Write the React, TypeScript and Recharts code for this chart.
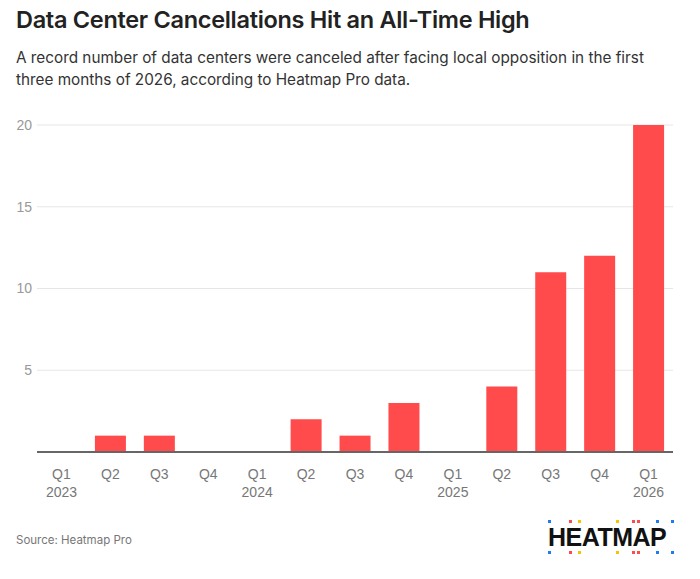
import React from "react";
import { BarChart, Bar, XAxis, YAxis, CartesianGrid } from "recharts";

const quarters = ["Q1", "Q2", "Q3", "Q4", "Q1", "Q2", "Q3", "Q4", "Q1", "Q2", "Q3", "Q4", "Q1"];
const years = ["2023", "", "", "", "2024", "", "", "", "2025", "", "", "", "2026"];
const cancellations = [0, 1, 1, 0, 0, 2, 1, 3, 0, 4, 11, 12, 20];
const yTicks = [0, 5, 10, 15, 20];

const data = quarters.map((q, i) => ({
  key: `${q}-${i}`,
  quarter: q,
  year: years[i],
  value: cancellations[i],
}));

const RED = "#FF4B4B";
const TICK_FONT = "'Liberation Sans', Arial, Helvetica, sans-serif";
const BRAND_FONT = "Inter, 'Noto Sans', sans-serif";

// two-line quarter / year labels under the baseline
const QuarterTick = (props: any) => {
  const { x, y, payload } = props;
  const row = data[payload.index] ?? data.find((d) => d.key === payload.value);
  return (
    <g transform={`translate(${x},${y})`}>
      <text textAnchor="middle" fill="#777" fontSize={14} fontFamily={TICK_FONT} dy={19}>
        {row?.quarter}
      </text>
      {row?.year ? (
        <text textAnchor="middle" fill="#777" fontSize={14} fontFamily={TICK_FONT} dy={37}>
          {row.year}
        </text>
      ) : null}
    </g>
  );
};

const ValueTick = (props: any) => {
  const { x, y, payload } = props;
  if (payload.value === 0) return null;
  return (
    <text
      x={x}
      y={y}
      dy="0.355em"
      textAnchor="end"
      fill="#999"
      fontSize={14}
      fontFamily={TICK_FONT}
    >
      {payload.value}
    </text>
  );
};

// decorative dots around the wordmark: [x, colour]
const logoDots: Array<[number, string]> = [
  [0, "#1E7BF2"],
  [21, "#FF4B4B"],
  [30, "#F2C500"],
  [68, "#F2C500"],
  [84, "#FF4B4B"],
  [89, "#FF4B4B"],
  [108, "#1E7BF2"],
  [123, "#1E7BF2"],
];

function Logo() {
  return (
    <div style={{ position: "absolute", left: 548, top: 519, width: 128, height: 38 }}>
      <svg width={128} height={38} style={{ position: "absolute", left: 0, top: 0 }}>
        {logoDots.map(([dx, c], i) => (
          <g key={i}>
            <rect x={dx} y={1} width={3} height={3} fill={c} />
            <rect x={dx} y={32} width={3} height={3} fill={c} />
          </g>
        ))}
      </svg>
      <div
        style={{
          position: "absolute",
          left: 0,
          top: 5,
          fontFamily: TICK_FONT,
          fontWeight: 700,
          fontSize: 25,
          lineHeight: "26px",
          letterSpacing: -0.5,
          color: "#111",
        }}
      >
        HEATMAP
      </div>
    </div>
  );
}

export default function App() {
  return (
    <div
      style={{
        position: "absolute",
        left: 0,
        top: 0,
        width: 700,
        height: 579,
        background: "#fff",
        overflow: "hidden",
      }}
    >
      <div
        style={{
          position: "absolute",
          left: 16,
          top: 5,
          fontFamily: BRAND_FONT,
          fontWeight: 600,
          fontSize: 23.5,
          lineHeight: "30px",
          letterSpacing: -0.3,
          color: "#222",
          whiteSpace: "nowrap",
        }}
      >
        Data Center Cancellations Hit an All-Time High
      </div>
      <div
        style={{
          position: "absolute",
          left: 16,
          top: 47,
          width: 650,
          fontFamily: BRAND_FONT,
          fontSize: 15.3,
          lineHeight: "22px",
          color: "#333",
        }}
      >
        A record number of data centers were canceled after facing local opposition in the first
        three months of 2026, according to Heatmap Pro data.
      </div>

      <div style={{ position: "absolute", left: 0, top: 0 }}>
        <BarChart
          width={700}
          height={500}
          data={data}
          margin={{ top: 125, right: 27, bottom: 0, left: 0 }}
          barSize={31}
        >
          <CartesianGrid vertical={false} stroke="#e6e6e6" strokeWidth={1} />
          <XAxis
            dataKey="key"
            height={48}
            tickLine={false}
            axisLine={{ stroke: "#666", strokeWidth: 2 }}
            tick={<QuarterTick />}
            interval={0}
          />
          <YAxis
            type="number"
            domain={[0, 20]}
            ticks={yTicks}
            width={37}
            tickLine={false}
            axisLine={false}
            tickSize={0}
            tickMargin={5}
            tick={<ValueTick />}
          />
          <Bar dataKey="value" fill={RED} isAnimationActive={false} />
        </BarChart>
      </div>

      <div
        style={{
          position: "absolute",
          left: 16,
          top: 531,
          fontFamily: BRAND_FONT,
          fontSize: 11.5,
          lineHeight: "18px",
          color: "#777",
        }}
      >
        Source: Heatmap Pro
      </div>
      <Logo />
    </div>
  );
}
